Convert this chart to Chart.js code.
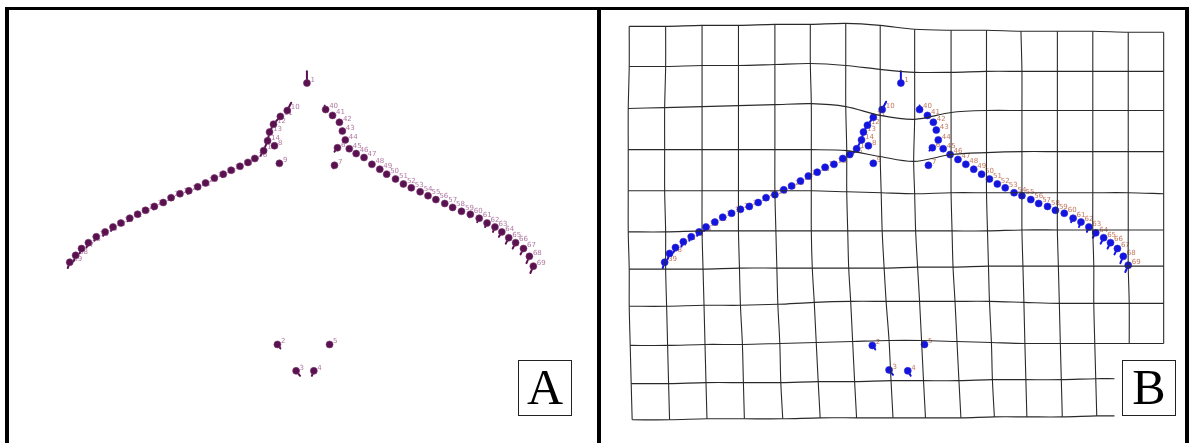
<!DOCTYPE html>
<html>
<head>
<meta charset="utf-8">
<script src="https://cdn.jsdelivr.net/npm/chart.js@4.4.1/dist/chart.umd.min.js"></script>
<style>
  html,body{margin:0;padding:0;background:#fff;}
  #wrap{position:relative;width:1190px;height:443px;overflow:hidden;background:#fff;}
  #frame{position:absolute;left:5px;top:7px;width:1184px;height:440px;box-sizing:border-box;
         border:4px solid #000;border-top-width:3px;border-bottom:none;}
  #divider{position:absolute;left:597px;top:7px;width:4px;height:436px;background:#000;}
  canvas{position:absolute;}
  .tag{position:absolute;box-sizing:border-box;border:1px solid #222;background:#fff;
       font-family:"Liberation Serif","DejaVu Serif",serif;font-size:50px;line-height:53px;
       text-align:center;color:#000;}
</style>
</head>
<body>
<div id="wrap">
  <div id="frame"></div>
  <div id="divider"></div>
  <canvas id="chartA" width="588" height="433" style="left:9px;top:10px;width:588px;height:433px"></canvas>
  <canvas id="chartB" width="584" height="433" style="left:601px;top:10px;width:584px;height:433px"></canvas>
  <div class="tag" style="left:518px;top:360px;width:54px;height:56px;">A</div>
  <div class="tag" style="left:1122px;top:360px;width:54px;height:56px;">B</div>
</div>
<script>
// ---------- landmark numbers ----------
const landmarkLabels = ["1","2","3","4","5","6","7","8","9",
 "10","11","12","13","14","15","16","17","18","19","20","21","22","23","24","25","26","27","28","29",
 "30","31","32","33","34","35","36","37","38","39",
 "40","41","42","43","44","45","46","47","48","49","50","51","52","53","54","55","56","57","58","59",
 "60","61","62","63","64","65","66","67","68","69"];

// ---------- panel A landmarks ----------
const landmarksAX = [307,277,296,314,330,338,335,274,279,
 287,280,273,269,267,263,254,247,239,230,222,213,204,196,187,178,169,161,152,143,135,127,118,110,102,93,85,78,72,66,
 326,333,340,343,346,350,357,365,373,381,388,397,405,413,422,430,438,447,455,464,473,482,490,498,505,512,519,527,533,537];
const landmarksAY = [80,347,374,374,347,146,164,144,162,
 108,114,122,130,139,149,157,161,165,169,173,177,182,186,190,193,197,202,206,210,214,218,223,227,232,237,243,249,256,263,
 107,113,120,129,138,147,152,156,163,168,173,178,183,187,191,195,199,203,207,211,214,218,223,227,232,238,243,249,257,267];
// displacement tails: [landmark, dx, dy]
const tailsA = [[1,0,-12],[10,4,-8],[11,-7,8],[12,-4,8],[13,-2,9],[14,-4,10],[15,-3,5],
 [2,3,4],[3,4,5],[4,-2,5],[6,-3,4],[7,-1,3],[40,-1,-4],
 [20,-1,3],[24,-1,3],[28,-1,3],[31,-2,3],[33,-2,4],[34,-2,4],[35,-2,4],[36,-2,5],[37,-2,5],[38,-2,6],[39,-2,6],
 [60,-1,3],[61,-2,4],[62,-2,4],[63,-2,5],[64,-3,5],[65,-3,6],[66,-3,6],[67,-3,6],[68,-3,7],[69,-3,7]];

// ---------- panel B landmarks ----------
const landmarksBX = [901,872,889,908,925,933,929,868,873,
 882,873,867,863,861,856,849,842,833,824,816,807,799,790,782,773,764,756,747,738,729,720,712,703,696,688,680,672,666,661,
 920,928,934,937,939,944,951,959,967,975,983,991,999,1007,1016,1024,1033,1041,1050,1058,1067,1076,1084,1092,1099,1107,1114,1121,1127,1132];
const landmarksBY = [80,348,373,374,347,146,164,144,162,
 107,115,123,130,138,147,153,157,163,166,171,175,180,185,189,194,197,202,206,209,213,217,222,227,232,237,242,248,254,263,
 107,113,120,128,138,147,153,158,163,168,173,178,183,187,192,195,199,203,206,210,213,218,222,227,233,238,243,249,257,266];
const tailsB = [[1,0,-12],[10,4,-8],[11,-6,8],[12,-4,7],[13,-2,8],[14,-5,9],[15,-3,4],
 [2,3,4],[3,4,5],[4,3,5],[6,-3,3],[40,0,-4],
 [33,-2,4],[34,-2,4],[35,-2,4],[36,-2,5],[37,-2,5],[38,-2,6],[39,-2,6],
 [61,-2,4],[62,-2,5],[63,-2,5],[64,-3,5],[65,-3,6],[66,-3,6],[67,-3,6],[68,-3,7],[69,-3,7]];

// ---------- deformation grid (panel B), node positions per row ----------
const gridX = [
 [625,662,699,736,773,809,845,880,915,952,988,1023,1060,1096,1132,1168],
 [625,662,699,736,773,809,845,880,915,952,988,1024,1060,1096,1132,1168],
 [624,661,699,736,773,810,845,880,915,952,988,1024,1060,1096,1132,1168],
 [624,661,699,736,773,810,846,880,914,952,988,1024,1060,1096,1132,1168],
 [624,661,699,736,773,810,846,881,915,952,988,1024,1060,1096,1132,1168],
 [624,662,699,736,774,810,847,882,916,953,989,1024,1060,1096,1132,1168],
 [625,662,700,737,775,811,848,884,918,954,990,1025,1061,1097,1132,1168],
 [625,663,701,738,776,813,850,886,920,956,991,1026,1062,1097,1133,1168],
 [626,664,702,740,778,815,852,889,922,958,993,1027,1063,1098,1133,1168],
 [627,665,703,741,779,817,854,891,924,960,994,1028,1064,1099,1118],
 [628,666,704,742,781,819,856,893,926,962,996,1029,1065,1100,1118]
];
const gridY = [
 [22,22,21,21,20,20,19,21,25,26,26,27,27,27,28,28],
 [63,63,62,62,61,60,62,66,69,69,68,68,68,68,68,68],
 [106,105,104,103,102,101,104,113,117,110,108,108,108,108,108,108],
 [148,148,148,148,148,148,149,155,160,153,151,150,150,150,150,150],
 [190,190,190,190,190,190,191,192,193,192,192,192,192,192,192,193],
 [232,232,231,231,231,231,231,231,231,231,231,230,230,230,230,230],
 [270,270,270,269,269,269,269,269,268,268,267,267,267,267,267,267],
 [308,308,307,307,306,304,303,303,303,303,303,304,305,305,305,305],
 [348,348,347,347,346,345,344,343,343,344,345,346,346,346,346,346],
 [387,387,386,386,386,385,385,384,384,384,383,383,383,382,382],
 [424,424,423,423,423,422,422,422,422,422,421,421,421,420,420]
];
// number of grid rows each vertical line runs through (right columns stop above the B box)
const gridColRows = [11,11,11,11,11,11,11,11,11,11,11,11,11,11,9,9];

// ---------- helpers ----------
function pts(xs, ys){ return xs.map((x,i)=>({x:x, y:ys[i]})); }

function gridDatasets(){
  const ds = [];
  const style = {showLine:true, pointRadius:0, borderColor:'#2a2a2a', borderWidth:1.1, tension:0.3, fill:false};
  gridX.forEach((row, r)=>{
    ds.push(Object.assign({data: row.map((x,c)=>({x:x, y:gridY[r][c]}))}, style));
  });
  gridColRows.forEach((nRows, c)=>{
    const d = [];
    for(let r=0;r<nRows;r++) d.push({x:gridX[r][c], y:gridY[r][c]});
    ds.push(Object.assign({data:d}, style));
  });
  return ds;
}

const decorPlugin = {
  id:'decor',
  beforeDatasetDraw(chart, args, opts){
    const ds = chart.data.datasets[args.index];
    if(!ds.isLandmarks) return;
    const xs = chart.scales.x, ys = chart.scales.y, ctx = chart.ctx;
    ctx.save();
    // labels
    ctx.font = '7px "DejaVu Sans", sans-serif';
    ctx.fillStyle = opts.labelColor;
    ctx.textBaseline = 'middle';
    ds.data.forEach((p,i)=>{
      ctx.fillText(landmarkLabels[i], xs.getPixelForValue(p.x)+3.5, ys.getPixelForValue(p.y)-3);
    });
    // tails
    ctx.strokeStyle = opts.tailColor;
    ctx.lineWidth = 2;
    ctx.lineCap = 'round';
    opts.tails.forEach(t=>{
      const p = ds.data[t[0]-1];
      ctx.beginPath();
      ctx.moveTo(xs.getPixelForValue(p.x), ys.getPixelForValue(p.y));
      ctx.lineTo(xs.getPixelForValue(p.x+t[1]), ys.getPixelForValue(p.y+t[2]));
      ctx.stroke();
    });
    ctx.restore();
  }
};

function makeChart(id, xmin, xmax, datasets, decor){
  return new Chart(document.getElementById(id), {
    type:'scatter',
    data:{datasets:datasets},
    options:{
      responsive:false, animation:false, devicePixelRatio:1, events:[],
      layout:{padding:0},
      plugins:{legend:{display:false}, tooltip:{enabled:false}, decor:decor},
      scales:{
        x:{type:'linear', min:xmin, max:xmax, display:false},
        y:{type:'linear', min:10, max:443, reverse:true, display:false}
      }
    },
    plugins:[decorPlugin]
  });
}

makeChart('chartA', 9, 597, [
  {data:pts(landmarksAX, landmarksAY), isLandmarks:true, pointRadius:3.5, pointBackgroundColor:'#5a1150',
   pointBorderColor:'#7a3a70', pointBorderWidth:0.6, showLine:false}
], {labelColor:'#b27aa4', tailColor:'#5a1150', tails:tailsA});

makeChart('chartB', 601, 1185, gridDatasets().concat([
  {data:pts(landmarksBX, landmarksBY), isLandmarks:true, pointRadius:3.5, pointBackgroundColor:'#1414e0',
   pointBorderColor:'#2a2ad0', pointBorderWidth:0.6, showLine:false}
]), {labelColor:'#c4785e', tailColor:'#1414e0', tails:tailsB});
</script>
</body>
</html>
